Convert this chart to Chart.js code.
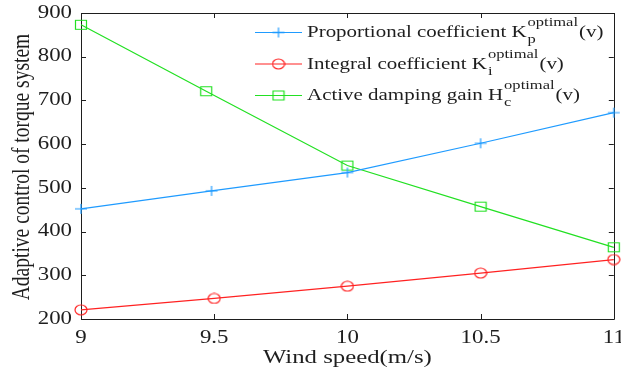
<!DOCTYPE html>
<html>
<head>
<meta charset="utf-8">
<script src="https://cdn.jsdelivr.net/npm/chart.js@4.4.1/dist/chart.umd.min.js"></script>
<style>
  html, body { margin: 0; padding: 0; background: #fff; }
  #wrap { width: 621px; height: 372px; }
</style>
</head>
<body>
<div id="wrap"><canvas id="chart" width="621" height="372"></canvas></div>
<script>
// wind speed ticks and axis range
const xTicks = [9, 9.5, 10, 10.5, 11];
const yTicks = [200, 300, 400, 500, 600, 700, 800, 900];

// series
const kpSpeed = [9, 9.49, 10, 10.5, 11];
const kpValues = [452, 493, 535, 602, 672];
const kiSpeed = [9, 9.5, 10, 10.5, 11];
const kiValues = [221, 247, 275, 305, 336];
const hcSpeed = [9, 9.47, 10, 10.5, 11];
const hcValues = [873, 721, 551, 457, 364];

const legendNames = ['Proportional coefficient K', 'Integral coefficient K', 'Active damping gain H'];
const legendSubs = ['p', 'i', 'c'];
const legendSup = 'optimal';
const legendTail = '(v)';

const colors = ['#1f9bff', '#ff2222', '#22e022'];
const textColor = '#1e1e1e';
const serif = '"Liberation Serif", "Times New Roman", serif';
const sx = 1.27;  // the picture is stretched sideways

// marker images (a little wider than tall, like the picture)
function makeMarker(kind, color) {
    const c = document.createElement('canvas');
    c.width = 14; c.height = 12;
    const g = c.getContext('2d');
    g.strokeStyle = color;
    g.lineWidth = 1.2;
    g.beginPath();
    if (kind === 'cross') {
        g.moveTo(1, 6); g.lineTo(13, 6);
        g.moveTo(7, 1); g.lineTo(7, 11);
    } else if (kind === 'circle') {
        g.ellipse(7, 6, 6, 5, 0, 0, Math.PI * 2);
    } else {
        g.rect(1.5, 1.5, 11, 9);
    }
    g.stroke();
    return c;
}
const markers = [makeMarker('cross', colors[0]), makeMarker('circle', colors[1]), makeMarker('rect', colors[2])];

function toPoints(xs, ys) {
    return xs.map((x, i) => ({ x: x, y: ys[i] }));
}

function drawText(ctx, str, x, y, size, align, baseline) {
    ctx.save();
    ctx.translate(x, y);
    ctx.scale(sx, 1);
    ctx.font = size + 'px ' + serif;
    ctx.textAlign = align || 'left';
    ctx.textBaseline = baseline || 'alphabetic';
    ctx.fillText(str, 0, 0);
    const w = ctx.measureText(str).width * sx;
    ctx.restore();
    return w;
}

// box, inward ticks and tick labels
const axesPlugin = {
    id: 'axesPlugin',
    beforeDatasetsDraw(chart) {
        const ctx = chart.ctx;
        const a = chart.chartArea;
        const xs = chart.scales.x, ys = chart.scales.y;
        ctx.save();
        ctx.strokeStyle = textColor;
        ctx.lineWidth = 1;
        ctx.beginPath();
        ctx.rect(Math.round(a.left) + 0.5, Math.round(a.top) + 0.5,
                 Math.round(a.right - a.left), Math.round(a.bottom - a.top));
        xs.ticks.forEach(t => {
            const px = Math.round(xs.getPixelForValue(t.value)) + 0.5;
            ctx.moveTo(px, a.bottom); ctx.lineTo(px, a.bottom - 5);
            ctx.moveTo(px, a.top); ctx.lineTo(px, a.top + 5);
        });
        ys.ticks.forEach(t => {
            const py = Math.round(ys.getPixelForValue(t.value)) + 0.5;
            ctx.moveTo(a.left, py); ctx.lineTo(a.left + 5, py);
            ctx.moveTo(a.right, py); ctx.lineTo(a.right - 5, py);
        });
        ctx.stroke();

        ctx.fillStyle = textColor;
        xs.ticks.forEach(t => {
            drawText(ctx, String(t.value), xs.getPixelForValue(t.value), a.bottom + 19, 18, 'center', 'middle');
        });
        ys.ticks.forEach(t => {
            drawText(ctx, String(t.value), a.left - 9, ys.getPixelForValue(t.value), 18, 'right', 'middle');
        });
        // axis titles
        drawText(ctx, 'Wind speed(m/s)', (a.left + a.right) / 2, a.bottom + 39, 19.5, 'center', 'middle');
        ctx.save();
        ctx.translate(22.5, 167);
        ctx.scale(sx, 1);
        ctx.rotate(-Math.PI / 2);
        ctx.font = '19.5px ' + serif;
        ctx.textAlign = 'center';
        ctx.textBaseline = 'middle';
        ctx.fillText('Adaptive control of torque system', 0, 0);
        ctx.restore();
        ctx.restore();
    },
    afterDraw(chart) {
        // legend with super/subscripts
        const ctx = chart.ctx;
        ctx.save();
        legendNames.forEach((name, i) => {
            const base = 37 + i * 31.5;
            const ly = base - 4.5;
            ctx.strokeStyle = colors[i];
            ctx.lineWidth = 1.2;
            ctx.beginPath();
            ctx.moveTo(255, ly); ctx.lineTo(302, ly);
            ctx.stroke();
            ctx.drawImage(markers[i], 278.5 - 7, ly - 6);
            ctx.fillStyle = textColor;
            let x = 307;
            x += drawText(ctx, name, x, base, 16.5);
            x += 1;
            const supW = drawText(ctx, legendSup, x, base - 11, 13);
            drawText(ctx, legendSubs[i], x, base + 6, 13);
            x += supW + 1;
            drawText(ctx, legendTail, x, base, 16.5);
        });
        ctx.restore();
    }
};

const datasets = [
    [kpSpeed, kpValues],
    [kiSpeed, kiValues],
    [hcSpeed, hcValues]
].map((s, i) => ({
    label: legendNames[i],
    data: toPoints(s[0], s[1]),
    borderColor: colors[i],
    backgroundColor: colors[i],
    borderWidth: 1.2,
    pointStyle: markers[i],
    pointRadius: 6,
    pointHoverRadius: 6,
    tension: 0,
    clip: false
}));

new Chart(document.getElementById('chart'), {
    type: 'line',
    data: { datasets: datasets },
    options: {
        responsive: false,
        animation: false,
        events: [],
        layout: { padding: { top: 13, right: 7, left: 0, bottom: 0 } },
        plugins: { legend: { display: false }, tooltip: { enabled: false } },
        scales: {
            x: {
                type: 'linear',
                min: xTicks[0],
                max: xTicks[xTicks.length - 1],
                afterBuildTicks: s => { s.ticks = xTicks.map(v => ({ value: v })); },
                ticks: { display: false },
                grid: { display: false },
                border: { display: false },
                afterFit: s => { s.height = 53; s.paddingLeft = 0; s.paddingRight = 0; }
            },
            y: {
                min: yTicks[0],
                max: yTicks[yTicks.length - 1],
                afterBuildTicks: s => { s.ticks = yTicks.map(v => ({ value: v })); },
                ticks: { display: false },
                grid: { display: false },
                border: { display: false },
                afterFit: s => { s.width = 81; s.paddingTop = 0; s.paddingBottom = 0; }
            }
        }
    },
    plugins: [axesPlugin]
});
</script>
</body>
</html>
